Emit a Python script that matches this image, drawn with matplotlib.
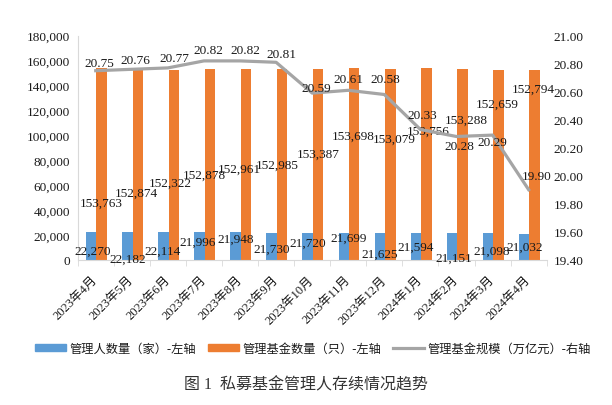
import numpy as np
import matplotlib
matplotlib.use('Agg')
import matplotlib.pyplot as plt
from matplotlib.patches import Patch
from matplotlib.lines import Line2D
from matplotlib.ticker import FuncFormatter

plt.rcParams['font.family'] = ['Liberation Serif', 'Noto Sans CJK SC']

months = ['2023年4月', '2023年5月', '2023年6月', '2023年7月', '2023年8月', '2023年9月',
          '2023年10月', '2023年11月', '2023年12月', '2024年1月', '2024年2月', '2024年3月',
          '2024年4月']
managers = [22270, 22182, 22114, 21996, 21948, 21730, 21720, 21699, 21625, 21594, 21151, 21098, 21032]
funds = [153763, 152874, 152322, 152878, 152961, 152985, 153387, 153698, 153079, 153756,
         153288, 152659, 152794]
scale = [20.75, 20.76, 20.77, 20.82, 20.82, 20.81, 20.59, 20.61, 20.58, 20.33, 20.28, 20.29, 19.90]

# where the data labels sit (x shift in categories, height in axis units), as in the original
mgr_dx = [-0.09, -0.10, -0.16, -0.17, -0.11, -0.11, -0.12, 0.0, -0.14, -0.14, -0.07, -0.02, -0.10]
mgr_y = [7230, 1130, 7230, 14460, 16630, 9160, 13980, 18000, 4580, 10450, 1930, 7230, 10450]
fund_dx = [0.16, 0.12, 0.06, 0.0, -0.03, 0.02, 0.18, 0.15, 0.28, 0.21, 0.28, 0.12, 0.13]
fund_y = [46130, 54160, 62200, 68060, 72890, 76340, 84940, 99650, 97560, 103670, 112260,
          125680, 137740]
scale_dx = [0.10, 0.11, 0.18, 0.11, 0.14, 0.16, 0.12, 0.0, 0.02, 0.05, 0.07, -0.01, 0.23]
scale_y = [20.803, 20.829, 20.839, 20.90, 20.90, 20.869, 20.624, 20.691, 20.691, 20.434,
           20.214, 20.239, 20.0]

blue = '#5B9BD5'
orange = '#ED7D31'
grey = '#A5A5A5'
txt = '#1a1a1a'

fig = plt.figure(figsize=(6.12, 4.06), dpi=100)
ax = fig.add_axes([77.7 / 612, 1 - 260.7 / 406, 469 / 612, 224 / 406])

x = np.arange(len(months))
w = 0.29
ax.bar(x - w / 2 + 0.02, managers, w, color=blue)
ax.bar(x + w / 2 + 0.02, funds, w, color=orange)
ax.set_xlim(-0.5, len(months) - 0.5)
ax.set_ylim(0, 180000)
ax.set_yticks(np.arange(0, 180001, 20000))
ax.yaxis.set_major_formatter(FuncFormatter(lambda v, p: '{:,.0f}'.format(v)))
ax.tick_params(axis='y', length=0, pad=5.5, labelsize=9.5, labelcolor=txt)

ax.set_xticks(x)
ax.set_xticklabels(months, rotation=45, ha='right', va='center', rotation_mode='anchor',
                   fontsize=9, color=txt)
ax.tick_params(axis='x', which='major', length=0, pad=13)
ax.set_xticks(np.arange(-0.5, len(months), 1), minor=True)
ax.tick_params(axis='x', which='minor', length=4, color='#D9D9D9')

for s in ['top', 'right']:
    ax.spines[s].set_visible(False)
ax.spines['left'].set_color('#D9D9D9')
ax.spines['bottom'].set_color('#D9D9D9')

for i in range(len(months)):
    ax.text(i + mgr_dx[i], mgr_y[i], '{:,}'.format(managers[i]), ha='center', va='center',
            fontsize=9.5, color=txt)
    ax.text(i + fund_dx[i], fund_y[i], '{:,}'.format(funds[i]), ha='center', va='center',
            fontsize=9.5, color=txt)

ax2 = ax.twinx()
ax2.plot(x, scale, color=grey, lw=2.3)
ax2.set_ylim(19.4, 21.0)
ax2.set_yticks(np.arange(19.4, 21.01, 0.2))
ax2.yaxis.set_major_formatter(FuncFormatter(lambda v, p: '{:.2f}'.format(v)))
ax2.tick_params(axis='y', length=0, pad=5, labelsize=9.5, labelcolor=txt)
for s in ['top', 'right', 'left', 'bottom']:
    ax2.spines[s].set_visible(False)

for i in range(len(months)):
    ax2.text(i + scale_dx[i], scale_y[i], '{:.2f}'.format(scale[i]), ha='center', va='center',
             fontsize=9.5, color=txt)

handles = [Patch(color=blue), Patch(color=orange), Line2D([], [], color=grey, lw=2.3)]
labels = ['管理人数量（家）-左轴', '管理基金数量（只）-左轴', '管理基金规模（万亿元）-右轴']
fig.legend(handles, labels, loc='center', bbox_to_anchor=(313 / 612, 1 - 350 / 406), ncol=3,
           frameon=False, fontsize=8.8, handlelength=2.5, handleheight=0.5,
           handletextpad=0.3, columnspacing=1.0, labelcolor=txt)

fig.text(306 / 612, 1 - 385 / 406, '图 1  私募基金管理人存续情况趋势', ha='center', va='center',
         fontsize=11.5, color='#333333')

fig.savefig('out.png', dpi=100)
